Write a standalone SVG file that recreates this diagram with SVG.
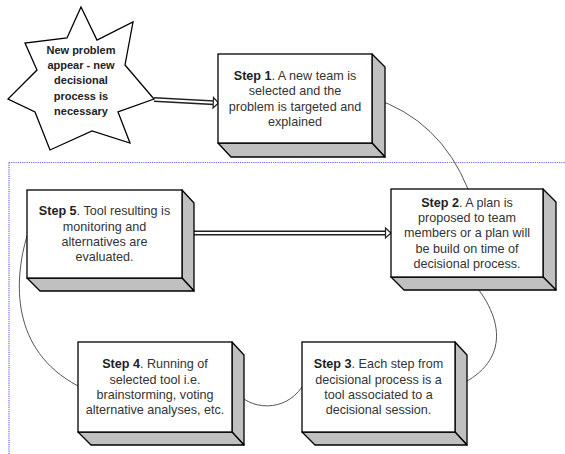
<svg xmlns="http://www.w3.org/2000/svg" width="565" height="454" viewBox="0 0 565 454">
<style>
.face{fill:#fff;stroke:#000;stroke-width:1.3}
.side{fill:#c0c0c0;stroke:#000;stroke-width:1.3;stroke-linejoin:round}
.t{font-family:"Liberation Sans",Arial,sans-serif;font-size:12.6px;fill:#333;text-anchor:middle}
.b{font-weight:bold;fill:#222}
.st{font-family:"Liberation Sans",Arial,sans-serif;font-size:11px;font-weight:bold;fill:#222;text-anchor:middle}
.curve{fill:none;stroke:#555;stroke-width:1}
.outer{fill:none;stroke:#222;stroke-width:5}
.inner{fill:none;stroke:#fff;stroke-width:2}
.head{fill:#fff;stroke:#222;stroke-width:1.2;stroke-linejoin:miter}
.guide{fill:none;stroke:#6a6af0;stroke-width:1.2;stroke-dasharray:1.2 1}
</style>
<rect width="565" height="454" fill="#fff"/>
<g id="guides">
<path class="guide" d="M9,162.5 H565 M9,162.5 V454"/>
</g>
<g id="connectors">
<path class="curve" d="M373,98 Q440,120 468,189"/>
<path class="curve" d="M468,277 C508,320 508,365 455,387"/>
<path class="curve" d="M232,388 C250,412 285,412 302,387"/>
<path class="curve" d="M27,236 C14,280 10,350 78,386"/>
<path class="outer" d="M154,99.5 L214,102.7"/>
<path class="inner" d="M154,99.5 L215,102.7"/>
<path class="head" d="M213.5,97.5 L218.5,103 L213,108 Z"/>
<path class="outer" d="M193,233 L386,233"/>
<path class="inner" d="M192,233 L387,233"/>
<path class="head" d="M385.5,228 L391,233 L385.5,238 Z"/>
</g>
<g id="star">
<polygon class="face" points="81,7 97,40 133,22 125,65 154,99 118,112 130,143 92,131 50,150 35,112 8,99 37,70 25,43 67,38"/>
<text class="st" x="81" y="54">New problem</text>
<text class="st" x="81" y="69">appear - new</text>
<text class="st" x="81" y="84">decisional</text>
<text class="st" x="81" y="99.5">process is</text>
<text class="st" x="81" y="114.5">necessary</text>
</g>
<g id="step1">
<polygon class="side" points="372,54 385,67 385,157 372,143"/>
<polygon class="side" points="218,143 372,143 385,157 231,157"/>
<rect class="face" x="218" y="54" width="154" height="89"/>
<text class="t" x="295" y="79.9"><tspan class="b">Step 1</tspan>. A new team is</text>
<text class="t" x="295" y="95.2">selected and the</text>
<text class="t" x="295" y="110.5">problem is targeted and</text>
<text class="t" x="295" y="125.8">explained</text>
</g>
<g id="step2">
<polygon class="side" points="543,189 556,202 556,290 543,277"/>
<polygon class="side" points="391,277 543,277 556,290 404,290"/>
<rect class="face" x="391" y="189" width="152" height="88"/>
<text class="t" x="467" y="206.7"><tspan class="b">Step 2</tspan>. A plan is</text>
<text class="t" x="467" y="222">proposed to team</text>
<text class="t" x="467" y="237.3">members or a plan will</text>
<text class="t" x="467" y="252.6">be build on time of</text>
<text class="t" x="467" y="267.9">decisional process.</text>
</g>
<g id="step5">
<polygon class="side" points="182,190 194,203 194,291 182,278"/>
<polygon class="side" points="27,278 182,278 194,291 40,291"/>
<rect class="face" x="27" y="190" width="155" height="88"/>
<text class="t" x="104.5" y="215.4"><tspan class="b">Step 5</tspan>. Tool resulting is</text>
<text class="t" x="104.5" y="230.7">monitoring and</text>
<text class="t" x="104.5" y="246">alternatives are</text>
<text class="t" x="104.5" y="261.3">evaluated.</text>
</g>
<g id="step4">
<polygon class="side" points="232,342 244,355 244,445 232,432"/>
<polygon class="side" points="78,432 232,432 244,445 91,445"/>
<rect class="face" x="78" y="342" width="154" height="90"/>
<text class="t" x="155" y="368.4"><tspan class="b">Step 4</tspan>. Running of</text>
<text class="t" x="155" y="383.7">selected tool i.e.</text>
<text class="t" x="155" y="399">brainstorming, voting</text>
<text class="t" x="155" y="414.3">alternative analyses, etc.</text>
</g>
<g id="step3">
<polygon class="side" points="455,342 467,355 467,445 455,432"/>
<polygon class="side" points="302,432 455,432 467,445 315,445"/>
<rect class="face" x="302" y="342" width="153" height="90"/>
<text class="t" x="378.5" y="368.4"><tspan class="b">Step 3</tspan>. Each step from</text>
<text class="t" x="378.5" y="383.7">decisional process is a</text>
<text class="t" x="378.5" y="399">tool associated to a</text>
<text class="t" x="378.5" y="414.3">decisional session.</text>
</g>
</svg>
